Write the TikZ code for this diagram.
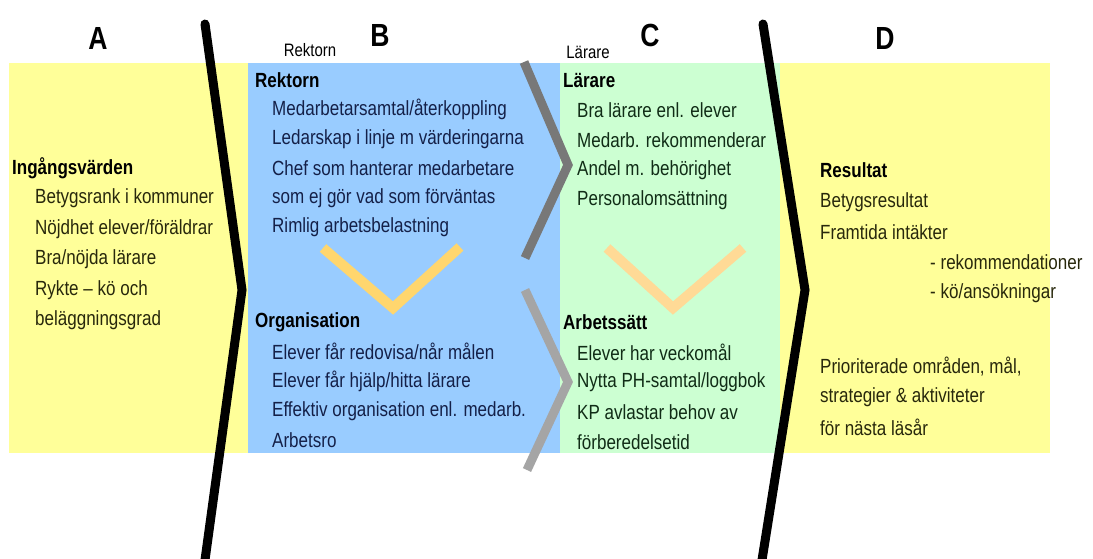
\documentclass[tikz,border=0pt]{standalone}
\usepackage{fontspec}
\setmainfont{Liberation Sans}[FakeStretch=0.83]
\definecolor{ybg}{RGB}{255,255,153}
\definecolor{bbg}{RGB}{153,204,255}
\definecolor{gbg}{RGB}{204,255,210}
\definecolor{txa}{RGB}{40,40,12}
\definecolor{txb}{RGB}{20,32,72}
\definecolor{txc}{RGB}{16,44,22}
\definecolor{vyel}{RGB}{255,214,110}
\definecolor{vpeach}{RGB}{255,218,150}
\definecolor{gdark}{RGB}{120,120,120}
\definecolor{glight}{RGB}{165,165,165}
\tikzset{
  item/.style={anchor=west, inner sep=0pt, font=\fontsize{20.5}{20.5}\selectfont},
  head/.style={anchor=west, inner sep=0pt, font=\fontsize{20.5}{20.5}\selectfont\bfseries, text=black},
  letter/.style={inner sep=0pt, font=\fontsize{32}{32}\selectfont\bfseries},
  small/.style={inner sep=0pt, font=\fontsize{18}{18}\selectfont},
  divider/.style={line width=9pt, black, line cap=round, line join=miter},
  chev/.style={line width=9pt, line cap=butt},
  vee/.style={line width=10pt, line cap=butt},
}
\begin{document}
\begin{tikzpicture}[x=1pt,y=-1pt]
\useasboundingbox (0,0) rectangle (1093,558);
\fill[white] (0,0) rectangle (1093,558);
% backgrounds
\fill[ybg] (9,63) rectangle (248,453);
\fill[bbg] (248,63) rectangle (560,453);
\fill[gbg] (560,63) rectangle (780,453);
\fill[ybg] (780,63) rectangle (1050,453);
% grey chevrons
\coordinate (g1a) at (524,62);
\coordinate (g1b) at (568,165);
\coordinate (g1c) at (525,258);
\coordinate (g2a) at (525,290);
\coordinate (g2b) at (568,382);
\coordinate (g2c) at (527,470);
\draw[chev, gdark] (g1a) -- (g1b) -- (g1c);
\draw[chev, glight] (g2a) -- (g2b) -- (g2c);
% yellow vees
\coordinate (v1a) at (323,248);
\coordinate (v1b) at (393,308);
\coordinate (v1c) at (460,247);
\coordinate (v2a) at (607,248);
\coordinate (v2b) at (673,308);
\coordinate (v2c) at (743,248);
\draw[vee, vyel] (v1a) -- (v1b) -- (v1c);
\draw[vee, vpeach] (v2a) -- (v2b) -- (v2c);
% black dividers
\coordinate (d1a) at (205,24);
\coordinate (d1b) at (242,290);
\coordinate (d1c) at (205,560);
\coordinate (d2a) at (763,24);
\coordinate (d2b) at (805,290);
\coordinate (d2c) at (762,560);
\draw[divider] (d1a) -- (d1b) -- (d1c);
\draw[divider] (d2a) -- (d2b) -- (d2c);
% letters
\node[letter] (la) at (98,38) {A};
\node[letter] (lb) at (380,35) {B};
\node[letter] (lc) at (650,35) {C};
\node[letter] (ld) at (885,38) {D};
\node[small] (sr) at (310,50) {Rektorn};
\node[small] (sl) at (588,52) {Lärare};
% column A
\node[head] (ah) at (12,168) {Ingångsvärden};
\node[item, text=txa] (a1) at (35,198) {Betygsrank i kommuner};
\node[item, text=txa] (a2) at (35,229) {Nöjdhet elever/föräldrar};
\node[item, text=txa] (a3) at (35,259) {Bra/nöjda lärare};
\node[item, text=txa] (a4) at (35,290) {Rykte -- kö och};
\node[item, text=txa] (a5) at (35,320) {beläggningsgrad};
% column B
\node[head] (bh) at (255,80) {Rektorn};
\node[item, text=txb] (b1) at (272,109) {Medarbetarsamtal/återkoppling};
\node[item, text=txb] (b2) at (272,139) {Ledarskap i linje m värderingarna};
\node[item, text=txb] (b3) at (272,168) {Chef som hanterar medarbetare};
\node[item, text=txb] (b4) at (272,198) {som ej gör vad som förväntas};
\node[item, text=txb] (b5) at (272,227) {Rimlig arbetsbelastning};
\node[head] (bh2) at (255,322) {Organisation};
\node[item, text=txb] (b6) at (272,351) {Elever får redovisa/når målen};
\node[item, text=txb] (b7) at (272,381) {Elever får hjälp/hitta lärare};
\node[item, text=txb] (b8) at (272,411) {Effektiv organisation enl. medarb.};
\node[item, text=txb] (b9) at (272,440) {Arbetsro};
% column C
\node[head] (ch) at (563,80) {Lärare};
\node[item, text=txc] (c1) at (577,110) {Bra lärare enl. elever};
\node[item, text=txc] (c2) at (577,140) {Medarb. rekommenderar};
\node[item, text=txc] (c3) at (577,170) {Andel m. behörighet};
\node[item, text=txc] (c4) at (577,200) {Personalomsättning};
\node[head] (ch2) at (563,322) {Arbetssätt};
\node[item, text=txc] (c5) at (577,352) {Elever har veckomål};
\node[item, text=txc] (c6) at (577,382) {Nytta PH-samtal/loggbok};
\node[item, text=txc] (c7) at (577,412) {KP avlastar behov av};
\node[item, text=txc] (c8) at (577,442) {förberedelsetid};
% column D
\node[head] (dh) at (820,170) {Resultat};
\node[item, text=txa] (d1) at (820,202) {Betygsresultat};
\node[item, text=txa] (d2) at (820,232) {Framtida intäkter};
\node[item, text=txa] (d3) at (930,262) {- rekommendationer};
\node[item, text=txa] (d4) at (930,293) {- kö/ansökningar};
\node[item, text=txa] (d5) at (820,367) {Prioriterade områden, mål,};
\node[item, text=txa] (d6) at (820,397) {strategier \& aktiviteter};
\node[item, text=txa] (d7) at (820,427) {för nästa läsår};
\end{tikzpicture}
\end{document}
